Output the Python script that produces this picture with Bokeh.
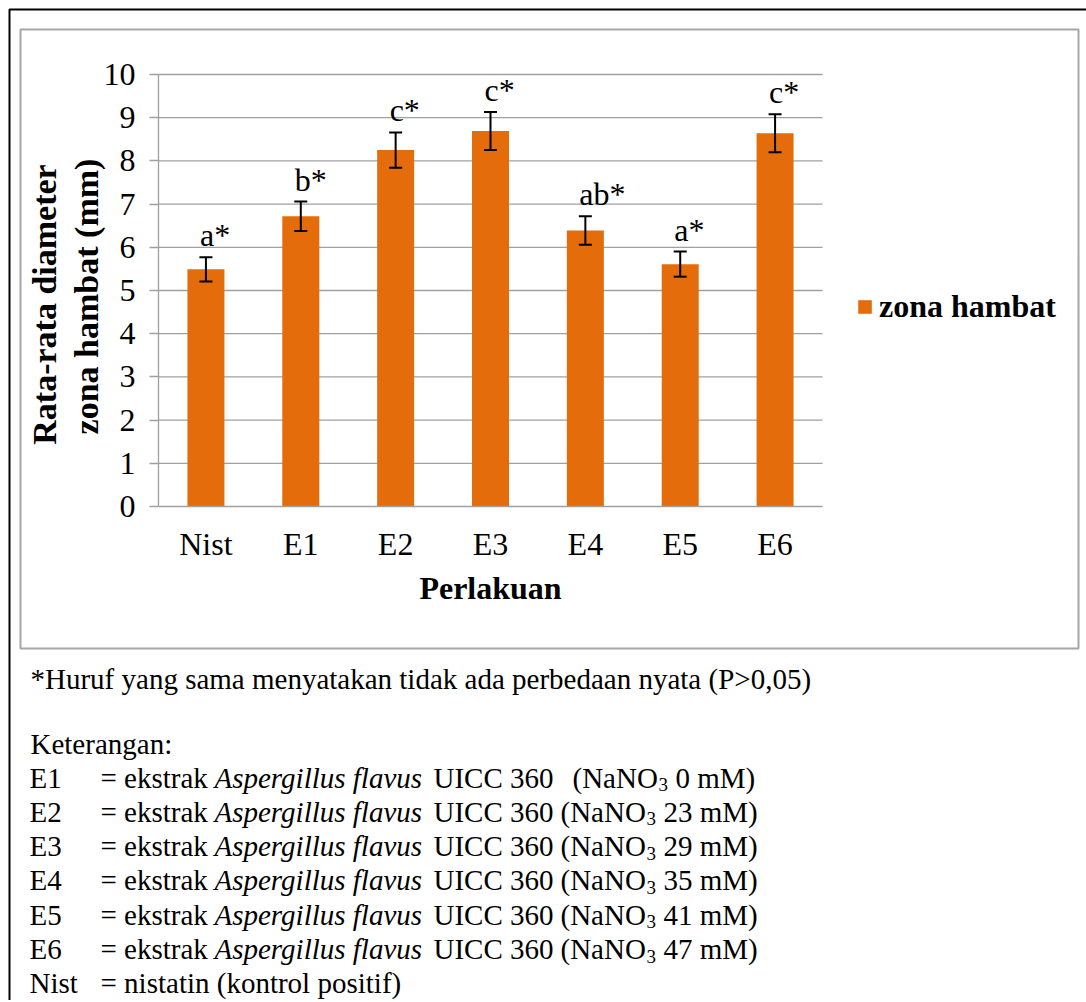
import math
from bokeh.plotting import figure
from bokeh.models import (ColumnDataSource, Whisker, TeeHead, LabelSet, Label,
                          BoxAnnotation, Range1d, FixedTicker)
from bokeh.embed import file_html
from bokeh.resources import INLINE

# ---------------- data ----------------
categories = ["Nist", "E1", "E2", "E3", "E4", "E5", "E6"]
means = [5.49, 6.72, 8.25, 8.69, 6.39, 5.61, 8.64]
errors = [0.28, 0.34, 0.41, 0.44, 0.33, 0.29, 0.44]
letters = ["a*", "b*", "c*", "c*", "ab*", "a*", "c*"]
y_ticks = [0, 1, 2, 3, 4, 5, 6, 7, 8, 9, 10]
series_name = "zona hambat"
x_title = "Perlakuan"
y_title_lines = ["Rata-rata diameter", "zona hambat (mm)"]

note_text = "*Huruf yang sama menyatakan tidak ada perbedaan nyata (P>0,05)"
legend_heading = "Keterangan:"
extract_codes = ["E1", "E2", "E3", "E4", "E5", "E6"]
nano3_mM = ["0", "23", "29", "35", "41", "47"]
control_code = "Nist"
control_desc = "= nistatin (kontrol positif)"

# ---------------- geometry (canvas px) ----------------
W, H = 1086, 1000
PL, PR, PT, PB = 158, 822, 74, 506   # plot-area edges
NX = len(categories)
YMAX = y_ticks[-1]

def dx(cx):
    return -0.5 + (cx - PL) * NX / (PR - PL)

def dy(cy):
    return (PB - cy) * YMAX / (PB - PT)

SERIF = "Liberation Serif"
ORANGE = "#E46C0A"
GREY = "#A0A0A0"

p = figure(width=W, height=H, output_backend="svg", toolbar_location=None,
           x_range=Range1d(dx(0), dx(W)), y_range=Range1d(dy(H), dy(0)),
           min_border=0)
p.outline_line_color = None
p.background_fill_color = "white"
p.border_fill_color = "white"
p.xgrid.visible = False
p.ygrid.visible = False

src = ColumnDataSource(dict(
    x=list(range(NX)), mean=means,
    upper=[m + e for m, e in zip(means, errors)],
    lower=[m - e for m, e in zip(means, errors)],
    sig=letters,
))

# horizontal gridlines across the plot area
p.segment(x0=-0.5, x1=NX - 0.5, y0=y_ticks[1:], y1=y_ticks[1:],
          line_color=GREY, line_width=1.3)

bars = p.vbar(x="x", top="mean", bottom=0, width=0.39, source=src,
              fill_color=ORANGE, line_color=None, legend_label=series_name)

wh = Whisker(source=src, base="x", upper="upper", lower="lower",
             line_color="black", line_width=2, level="overlay",
             upper_head=TeeHead(size=13, line_color="black", line_width=2),
             lower_head=TeeHead(size=13, line_color="black", line_width=2))
p.add_layout(wh)

ls = LabelSet(source=src, x="x", y="upper", text="sig", x_offset=-6, y_offset=11,
              text_align="left", text_baseline="alphabetic",
              text_font=SERIF, text_font_size="32px", text_color="black")
p.add_layout(ls)

# axes fixed at the plot-area edges
yax = p.yaxis[0]
yax.fixed_location = -0.5
yax.bounds = (0, YMAX)
yax.ticker = FixedTicker(ticks=y_ticks)
yax.minor_tick_line_color = None
yax.major_tick_out = 9
yax.major_tick_in = 0
yax.major_tick_line_color = GREY
yax.major_tick_line_width = 1.3
yax.axis_line_color = GREY
yax.axis_line_width = 1.3
yax.major_label_standoff = 14
yax.major_label_text_font = SERIF
yax.major_label_text_font_size = "32px"
yax.major_label_text_color = "black"

xax = p.xaxis[0]
xax.fixed_location = 0
xax.bounds = (-0.5, NX - 0.5)
xax.ticker = FixedTicker(ticks=list(range(NX)))
xax.major_label_overrides = {i: c for i, c in enumerate(categories)}
xax.minor_tick_line_color = None
xax.major_tick_out = 0
xax.major_tick_in = 0
xax.axis_line_color = GREY
xax.axis_line_width = 1.3
xax.major_label_standoff = 19
xax.major_label_text_font = SERIF
xax.major_label_text_font_size = "32px"
xax.major_label_text_color = "black"
xax.axis_label = x_title
xax.axis_label_text_font = SERIF
xax.axis_label_text_font_size = "32px"
xax.axis_label_text_font_style = "bold"
xax.axis_label_text_color = "black"
xax.axis_label_standoff = 5

# legend
lg = p.legend[0]
lg.location = (856, H - 325)
lg.padding = 0
lg.margin = 0
lg.spacing = 0
lg.border_line_color = None
lg.background_fill_alpha = 0
lg.glyph_width = 17
lg.glyph_height = 17
lg.label_standoff = 6
lg.label_text_font = SERIF
lg.label_text_font_size = "32px"
lg.label_text_font_style = "bold"
lg.label_text_color = "black"

# y-axis title (two lines)
for cx, cy, line in zip([44, 86], [304, 296], y_title_lines):
    p.add_layout(Label(x=dx(cx), y=dy(cy), text=line, angle=math.pi / 2,
                       text_align="center", text_baseline="middle",
                       text_font=SERIF, text_font_size="34px",
                       text_font_style="bold", text_color="black"))

# borders
p.add_layout(BoxAnnotation(left=dx(20), right=dx(1078), top=dy(29), bottom=dy(648),
                           fill_alpha=0, line_color="#A6A6A6", line_alpha=1.0,
                           line_width=2))
p.add_layout(BoxAnnotation(left=dx(9), right=dx(1300), top=dy(9), bottom=dy(1300),
                           fill_alpha=0, line_color="black", line_alpha=1.0,
                           line_width=2))

# caption texts
def txt(cx, cy, s, size="29px", style="normal"):
    p.add_layout(Label(x=dx(cx), y=dy(cy), text=s, text_align="left",
                       text_baseline="middle", text_font=SERIF,
                       text_font_size=size, text_font_style=style,
                       text_color="black"))

txt(30, 678, note_text)
txt(30, 743, legend_heading)
ROW0, STEP = 777, 34.3
for i, (code, conc) in enumerate(zip(extract_codes, nano3_mM)):
    cy = ROW0 + i * STEP
    shift = 12 if i == 0 else 0
    txt(29, cy, code)
    txt(100, cy, "= ekstrak")
    txt(214, cy, "Aspergillus flavus", style="italic")
    txt(433, cy, "UICC 360")
    txt(560 + shift, cy, "(NaNO")
    txt(646 + shift, cy + 7, "3", size="19px")
    txt(663 + shift, cy, conc + " mM)")
cy = ROW0 + len(extract_codes) * STEP
txt(29, cy, control_code)
txt(100, cy, control_desc)

open("out.html", "w").write(file_html(p, INLINE))
